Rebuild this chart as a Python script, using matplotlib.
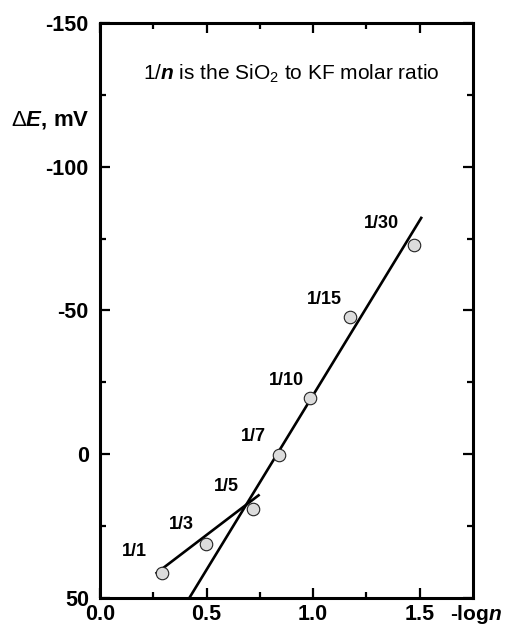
import matplotlib
matplotlib.use("Agg")
import matplotlib.pyplot as plt

plt.rcParams['font.family'] = ['Liberation Sans', 'DejaVu Sans']
plt.rcParams['mathtext.fontset'] = 'custom'
plt.rcParams['mathtext.rm'] = 'Liberation Sans'
plt.rcParams['mathtext.it'] = 'Liberation Sans:italic:bold'
plt.rcParams['mathtext.bf'] = 'Liberation Sans:bold'

# points
labels = ["1/1", "1/3", "1/5", "1/7", "1/10", "1/15", "1/30"]
logn = [0.29, 0.498, 0.718, 0.838, 0.984, 1.175, 1.473]
dE = [41.3, 31.1, 19.0, 0.1, -19.6, -47.7, -72.7]

# where the ratio labels sit
lab_x = [0.160, 0.384, 0.595, 0.720, 0.874, 1.054, 1.321]
lab_y = [33.7, 24.3, 11.1, -6.0, -25.7, -53.8, -80.3]

# two straight lines (end points)
line1_x = [0.266, 0.744]
line1_y = [41.3, 14.3]
line2_x = [0.415, 1.507]
line2_y = [50.5, -82.2]

fig = plt.figure(figsize=(5.06, 6.27), dpi=100)
ax = fig.add_axes([0.1976, 0.0463, 0.9348 - 0.1976, 0.9633 - 0.0463])

ax.plot(line1_x, line1_y, color='black', lw=1.9)
ax.plot(line2_x, line2_y, color='black', lw=1.9)
ax.plot(logn, dE, 'o', ms=9, mfc='#dcdcdc', mec='#222222', mew=0.8, zorder=3)

for t, x, y in zip(labels, lab_x, lab_y):
    ax.text(x, y, t, fontsize=13, fontweight='bold', ha='center', va='center')

ax.set_xlim(0, 1.75)
ax.set_ylim(50, -150)
ax.set_xticks([0.0, 0.5, 1.0, 1.5])
ax.set_xticks([0.25, 0.75, 1.25], minor=True)
ax.set_yticks([50, 0, -50, -100, -150])
ax.set_yticks([25, -25, -75, -125], minor=True)
ax.set_yticklabels(['50', '0', '-50', '-100', '-150'])
ax.set_xticklabels(['0.0', '0.5', '1.0', '1.5'])

for sp in ax.spines.values():
    sp.set_linewidth(2.2)
ax.tick_params(which='both', direction='in', top=True, right=True, width=1.6)
ax.tick_params(which='major', length=7, labelsize=15.5)
ax.tick_params(axis='x', which='major', pad=4.5)
ax.tick_params(axis='y', which='major', pad=8)
ax.tick_params(which='minor', length=4)
for lb in ax.get_xticklabels() + ax.get_yticklabels():
    lb.set_fontweight('bold')

ax.text(1.765, -0.038, '-log$n$', transform=ax.get_xaxis_transform(),
        fontsize=15, fontweight='bold', ha='center', va='baseline')
fig.text(0.099, 0.809, r'$\Delta E$, mV', fontsize=16, fontweight='bold',
         ha='center', va='center')
ax.text(0.513, 0.912, '1/$n$ is the SiO$_2$ to KF molar ratio', transform=ax.transAxes,
        fontsize=15, ha='center', va='center')

fig.savefig('out.png', dpi=100)
